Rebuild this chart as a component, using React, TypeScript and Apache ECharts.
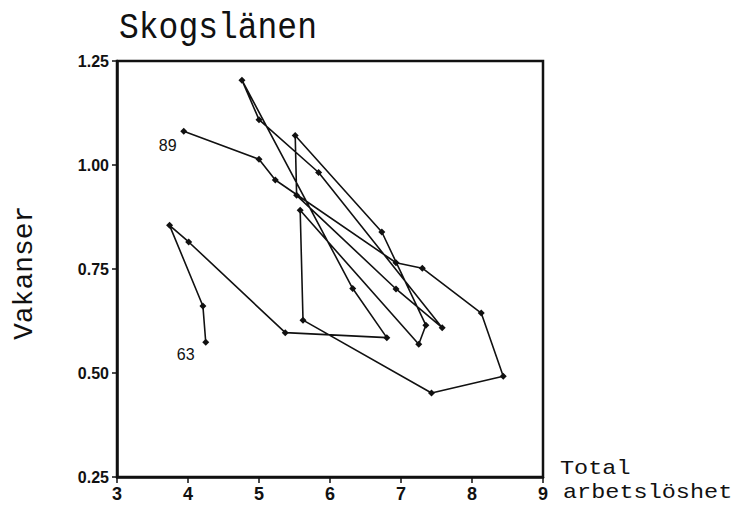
import React, { useEffect, useRef } from "react";
import * as echarts from "echarts";

// Skogslänen: total unemployment (%) vs vacancies (%), 1963–1989
const years = [
  1963, 1964, 1965, 1966, 1967, 1968, 1969, 1970, 1971, 1972, 1973, 1974, 1975,
  1976, 1977, 1978, 1979, 1980, 1981, 1982, 1983, 1984, 1985, 1986, 1987, 1988, 1989,
];
const unemployment = [
  4.25, 4.21, 3.74, 4.01, 5.37, 6.8, 6.32, 4.76, 5.0, 5.84, 7.58, 6.93, 5.53,
  5.51, 6.73, 7.35, 7.25, 5.58, 5.62, 7.43, 8.44, 8.13, 7.3, 6.93, 5.23, 5.0, 3.94,
];
const vacancies = [
  0.574, 0.661, 0.855, 0.815, 0.597, 0.585, 0.703, 1.204, 1.109, 0.982, 0.609, 0.702, 0.927,
  1.071, 0.839, 0.615, 0.569, 0.891, 0.627, 0.452, 0.492, 0.644, 0.752, 0.765, 0.964, 1.014, 1.081,
];
const xTicks = [3, 4, 5, 6, 7, 8, 9];
const yTicks = [0.25, 0.5, 0.75, 1.0, 1.25];
const labelledYears = [
  { year: 1963, text: "63", offset: [-20, 12] },
  { year: 1989, text: "89", offset: [-16, 14] },
];

export default function App() {
  const ref = useRef<HTMLDivElement>(null);
  useEffect(() => {
    const chart = echarts.init(ref.current!, null, { renderer: "svg" });
    const data = years.map((yr, i) => {
      const item: any = { value: [unemployment[i], vacancies[i]] };
      const lab = labelledYears.find((l) => l.year === yr);
      if (lab) {
        item.label = {
          show: true,
          formatter: lab.text,
          position: "inside",
          offset: lab.offset,
          color: "#111",
          fontFamily: "Liberation Sans",
          fontSize: 16,
        };
      }
      return item;
    });
    chart.setOption({
      animation: false,
      backgroundColor: "#fff",
      grid: {
        left: 117,
        top: 61,
        width: 426,
        height: 416,
        show: true,
        borderColor: "#111",
        borderWidth: 2.5,
        backgroundColor: "transparent",
      },
      xAxis: {
        type: "value",
        min: xTicks[0],
        max: xTicks[xTicks.length - 1],
        interval: 1,
        axisLine: { show: true, lineStyle: { color: "#111", width: 2.5 } },
        axisTick: { show: true, length: 6, lineStyle: { color: "#111", width: 1.5 } },
        splitLine: { show: false },
        axisLabel: {
          color: "#111",
          fontFamily: "Liberation Sans",
          fontWeight: "bold",
          fontSize: 18,
          margin: 8,
        },
      },
      yAxis: {
        type: "value",
        min: yTicks[0],
        max: yTicks[yTicks.length - 1],
        interval: 0.25,
        axisLine: { show: true, lineStyle: { color: "#111", width: 2.5 } },
        axisTick: { show: true, length: 5, lineStyle: { color: "#111", width: 1.5 } },
        splitLine: { show: false },
        axisLabel: {
          color: "#111",
          fontFamily: "Liberation Sans",
          fontWeight: "bold",
          fontSize: 16,
          margin: 8,
          formatter: (v: number) => v.toFixed(2),
        },
      },
      series: [
        {
          type: "line",
          data,
          symbol: "diamond",
          symbolSize: 7,
          itemStyle: { color: "#111" },
          lineStyle: { color: "#111", width: 1.6 },
          z: 3,
        },
      ],
      graphic: [
        {
          type: "text",
          x: 119,
          y: 28,
          scaleY: 1.1,
          style: {
            text: "Skogslänen",
            fontFamily: "Liberation Mono",
            fontSize: 33,
            fill: "#111",
            verticalAlign: "middle",
          },
        },
        {
          type: "text",
          x: 10,
          y: 340,
          rotation: Math.PI / 2,
          style: {
            text: "Vakanser",
            fontFamily: "Liberation Mono",
            fontSize: 28,
            fill: "#111",
            align: "left",
            verticalAlign: "top",
          },
        },
        {
          type: "text",
          x: 560,
          y: 468,
          scaleX: 1.12,
          style: {
            text: "Total",
            fontFamily: "Liberation Mono",
            fontSize: 21,
            fill: "#111",
            verticalAlign: "middle",
          },
        },
        {
          type: "text",
          x: 563,
          y: 492,
          scaleX: 1.12,
          style: {
            text: "arbetslöshet",
            fontFamily: "Liberation Mono",
            fontSize: 21,
            fill: "#111",
            verticalAlign: "middle",
          },
        },
      ],
    });
    return () => chart.dispose();
  }, []);
  return (
    <div
      ref={ref}
      style={{ position: "fixed", left: 0, top: 0, width: 743, height: 511 }}
    />
  );
}
